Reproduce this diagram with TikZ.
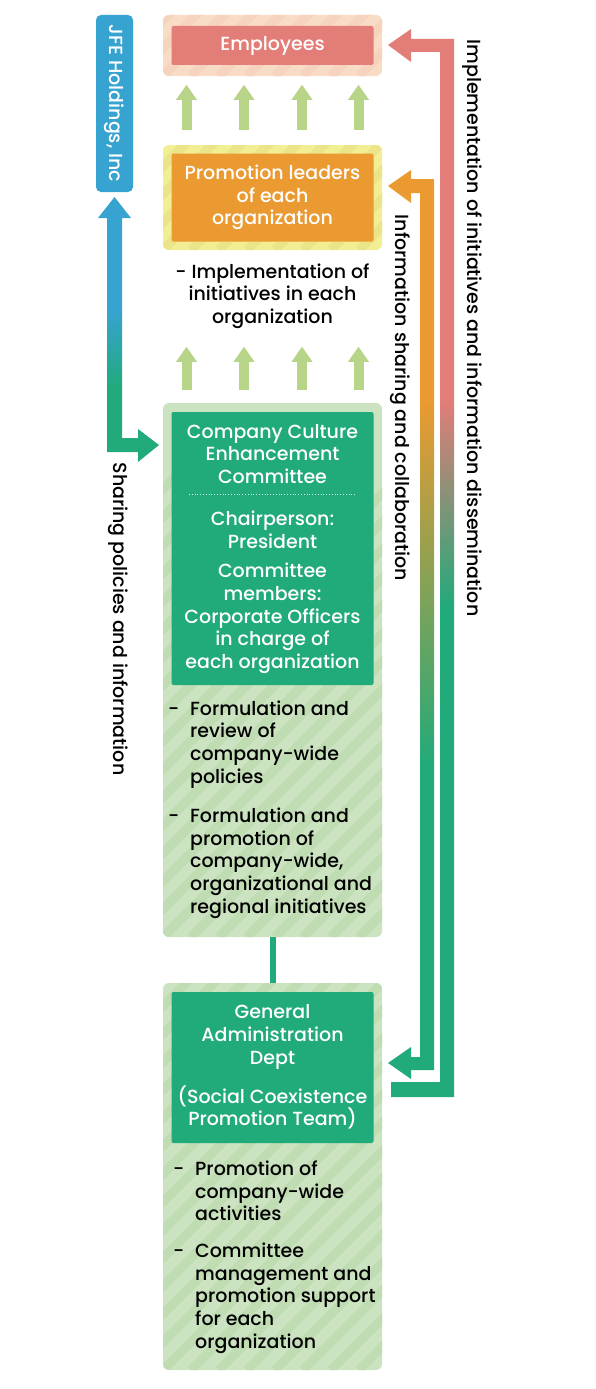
\documentclass[tikz,border=0pt]{standalone}
\usepackage{fontspec}
\setmainfont{Poppins Medium}[BoldFont={Poppins SemiBold}]
\usepackage{tikz}
\usetikzlibrary{positioning,arrows.meta}

\definecolor{cPink}{HTML}{E27D77}
\definecolor{cPinkBand}{HTML}{F9DCC6}
\definecolor{cPinkStripe}{HTML}{F6D3BC}
\definecolor{cOrange}{HTML}{EA9A31}
\definecolor{cYellowBand}{HTML}{F2EE94}
\definecolor{cYellowStripe}{HTML}{EBE488}
\definecolor{cGreen}{HTML}{21AA7A}
\definecolor{cGreenBand}{HTML}{CCE3C1}
\definecolor{cGreenStripe}{HTML}{C0DCB3}
\definecolor{cBlue}{HTML}{36A3D0}
\definecolor{cArrow}{HTML}{B8D489}

\pgfdeclareverticalshading{bluegreen}{100bp}{color(0bp)=(cGreen); color(38.6bp)=(cGreen); color(53.7bp)=(cBlue); color(100bp)=(cBlue)}
\pgfdeclareverticalshading{orangegreen}{100bp}{color(0bp)=(cGreen); color(42.2bp)=(cGreen); color(62.3bp)=(cOrange); color(100bp)=(cOrange)}
\pgfdeclareverticalshading{pinkgreen}{100bp}{color(0bp)=(cGreen); color(47.9bp)=(cGreen); color(57.6bp)=(cPink); color(100bp)=(cPink)}

\tikzset {
    style band/.style 2 args={
        fill=#1,
        rectangle, % Set the shape as a rectangle
        rounded corners=6pt,
        minimum width=219pt,
        inner sep=0pt,
        path picture={
            \foreach \i in {-448,-420,...,252}
                \draw[#2, line width=9pt] ([xshift=\i pt]path picture bounding box.south west) -- ++(460,-460);
        },
    },
    style box/.style={
        fill=#1,
        rectangle, % Set the shape as a rectangle
        rounded corners=2pt,
        minimum width=202pt,
        text=white,
        align=center,
        inner sep=0pt,
    },
    style label/.style={
        align=center,
        inner sep=0pt,
    },
    style list/.style={
        align=left,
        inner sep=0pt,
        anchor=west,
    },
    style side/.style={
        rotate=-90,
        inner sep=0pt,
    },
    style up/.style={
        draw=cArrow,
        line width=10pt,
        -{Triangle[width=21pt, length=15pt, line width=0pt]},
    },
}

\begin{document}
\begin{tikzpicture}[x=1pt, y=-1pt, font=\fontsize{19}{22.7}\selectfont]
    \useasboundingbox (0,0) rectangle (595,1389);

    % outer bands
    \node[style band={cPinkBand}{cPinkStripe}, minimum height=61pt] (empband) at (272.5,45.5) {};
    \node[style band={cYellowBand}{cYellowStripe}, minimum height=105pt] (leadband) at (272.5,197.5) {};
    \node[style band={cGreenBand}{cGreenStripe}, minimum height=534pt] (ccband) at (272.5,670) {};
    \node[style band={cGreenBand}{cGreenStripe}, minimum height=387pt] (gaband) at (272.5,1176.5) {};

    % boxes
    \node[style box=cPink, minimum height=39pt] (emp) at (empband) {Employees};
    \node[style box=cOrange, minimum height=88pt] (lead) at (leadband) {Promotion leaders\\of each\\organization};
    \node[style box=cGreen, minimum height=273pt] (cc) at (272.5,548.5) {};
    \node[style box=cGreen, minimum height=151pt] (ga) at (272.5,1067.5) {};

    \node[style label, text=white] (ccname) at (272.5,454) {Company Culture\\Enhancement\\Committee};
    \draw[white!80!cGreen, line width=0.8pt, dotted] (189,494) -- (357,494);
    \node[style label, text=white] (chair) at (272.5,530) {Chairperson:\\President};
    \node[style label, text=white] (members) at (272.5,618.5) {Committee\\members:\\Corporate Officers\\in charge of\\each organization};

    \node[style label, text=white] (ganame) at (272.5,1037) {General\\Administration\\Dept};
    \node[style label, text=white] (team) at (272.5,1107.5) {(Social Coexistence\\Promotion Team)};

    \node[style label] (impl) at (272.5,296) {- Implementation of\\initiatives in each\\organization};

    \node[style list] (ccpolicy) at (190,744.5) {\llap{-\hspace{11pt}}Formulation and\\review of\\company-wide\\policies};
    \node[style list] (ccinit) at (190,863) {\llap{-\hspace{11pt}}Formulation and\\promotion of\\company-wide,\\organizational and\\regional initiatives};
    \node[style list] (gaact) at (195,1191) {\llap{-\hspace{11pt}}Promotion of\\company-wide\\activities};
    \node[style list] (gasupport) at (195,1298) {\llap{-\hspace{11pt}}Committee\\management and\\promotion support\\for each\\organization};

    % up arrows
    \foreach \x in {-86,-28.5,29.5,86} {
        \draw[style up] ([xshift=\x pt, yshift=15pt]leadband.north) -- ++(0,-45);
        \draw[style up] ([xshift=\x pt, yshift=13pt]ccband.north) -- ++(0,-43);
    }

    \draw[cGreen, line width=6pt] (ccband.south) -- (gaband.north);

    % JFE and side arrows
    \node[fill=cBlue, rounded corners=5pt, minimum width=177pt, minimum height=37pt, inner sep=0pt, rotate=-90, text=white] (jfe) at (114.5,103.5) {JFE Holdings, Inc};

    \shade[shading=bluegreen] (114.5,197) -- (131,218) -- (122,218) -- (122,438) -- (138,438) -- (138,429) -- (159,445)
        -- (138,462) -- (138,452) -- (107,452) -- (107,218) -- (98,218) -- cycle;
    \shade[shading=orangegreen] (388,186) -- (411,170) -- (411,179) -- (434,179) -- (434,1070) -- (411,1070) -- (411,1079)
        -- (388,1063) -- (411,1047) -- (411,1057) -- (420,1057) -- (420,193) -- (411,193) -- (411,203) -- cycle;
    \shade[shading=pinkgreen] (388,45) -- (411,29) -- (411,39) -- (454,39) -- (454,1097) -- (391,1097) -- (391,1082)
        -- (440,1082) -- (440,52) -- (411,52) -- (411,62) -- cycle;

    \node[style side] (lblshare) at (118,619) {Sharing policies and information};
    \node[style side] (lblinfo) at (400,398) {Information sharing and collaboration};
    \node[style side] (lblimpl) at (472,328) {Implementation of initiatives and information dissemination};

\end{tikzpicture}
\end{document}
